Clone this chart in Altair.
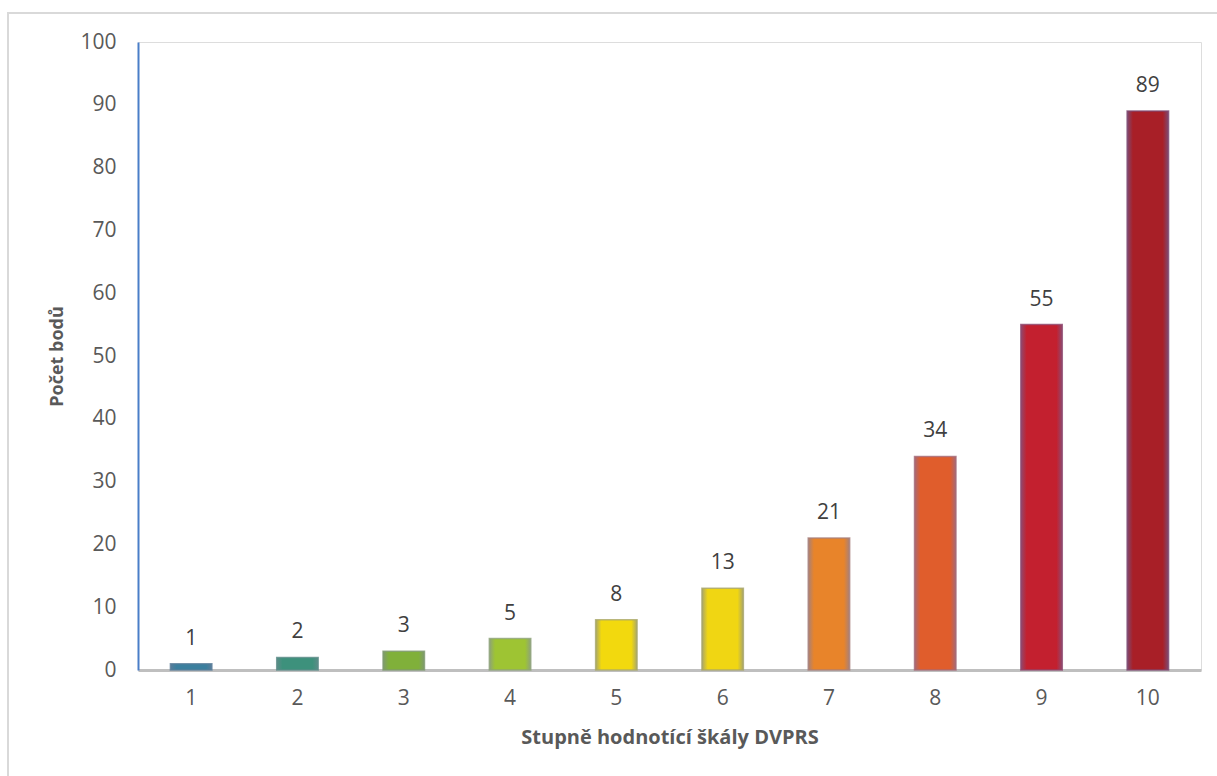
import altair as alt
import pandas as pd

categories = [str(i) for i in range(1, 11)]
values = [1, 2, 3, 5, 8, 13, 21, 34, 55, 89]
center_colors = ["#3B7F9E", "#3D917C", "#80B03A", "#9EC433", "#F2D90E",
                 "#F0D613", "#E8842A", "#E05D2C", "#C3202F", "#A81F27"]
edge_colors = ["#5A7D9A", "#5C8C88", "#7F9A70", "#8EA37A", "#A9A86A",
               "#A8A56C", "#A7807A", "#A56A78", "#8E4A70", "#7E4A72"]

df = pd.DataFrame({"cat": categories, "val": values})

FONT = "Open Sans"
W, H = 1063, 628

x_enc = alt.X("cat:N", sort=categories,
              scale=alt.Scale(paddingInner=0.61, paddingOuter=0.305),
              axis=alt.Axis(title="Stupně hodnotící škály DVPRS", labelAngle=0,
                            labelFontSize=21, labelColor="#595959", labelFont=FONT,
                            labelPadding=17, ticks=False,
                            domainColor="#BFBFBF", domainWidth=3,
                            titleFont=FONT, titleFontSize=20, titleFontWeight="bold",
                            titleColor="#595959", titlePadding=19))
y_enc = alt.Y("val:Q", scale=alt.Scale(domain=[0, 100], nice=False),
              axis=alt.Axis(title="Počet bodů", values=list(range(0, 101, 10)),
                            labelFontSize=21, labelColor="#595959", labelFont=FONT,
                            labelPadding=22, ticks=False, grid=False,
                            domainColor="#4A7EC8", domainWidth=2,
                            titleFont=FONT, titleFontSize=18, titleFontWeight="bold",
                            titleColor="#595959", titlePadding=13))

border = alt.Chart(df).mark_rect(fill=None, stroke="#D9D9D9", strokeWidth=2).encode(
    x=alt.value(-130), x2=alt.value(W + 100), y=alt.value(-29), y2=alt.value(H + 200)
)

layers = [border]
for i, c in enumerate(categories):
    grad = alt.Gradient(
        gradient="linear",
        stops=[alt.GradientStop(color=edge_colors[i], offset=0),
               alt.GradientStop(color=center_colors[i], offset=0.14),
               alt.GradientStop(color=center_colors[i], offset=0.86),
               alt.GradientStop(color=edge_colors[i], offset=1)],
        x1=0, x2=1, y1=0, y2=0,
    )
    layers.append(
        alt.Chart(df).transform_filter(alt.datum.cat == c)
        .mark_bar(color=grad, stroke=edge_colors[i], strokeWidth=1.5, strokeOpacity=0.8)
        .encode(x=x_enc, y=y_enc)
    )

labels = alt.Chart(df).mark_text(
    font=FONT, fontSize=21, color="#404040", baseline="alphabetic", dy=-19
).encode(x=x_enc, y=y_enc, text="val:Q")
layers.append(labels)

chart = alt.layer(*layers).properties(
    width=W, height=H,
    autosize=alt.AutoSizeParams(type="none"),
    padding={"left": 138, "top": 42, "right": 16, "bottom": 106},
).configure_view(stroke=None).configure(background="white")

chart.save("out.html", embed_options={"renderer": "svg", "actions": False})
